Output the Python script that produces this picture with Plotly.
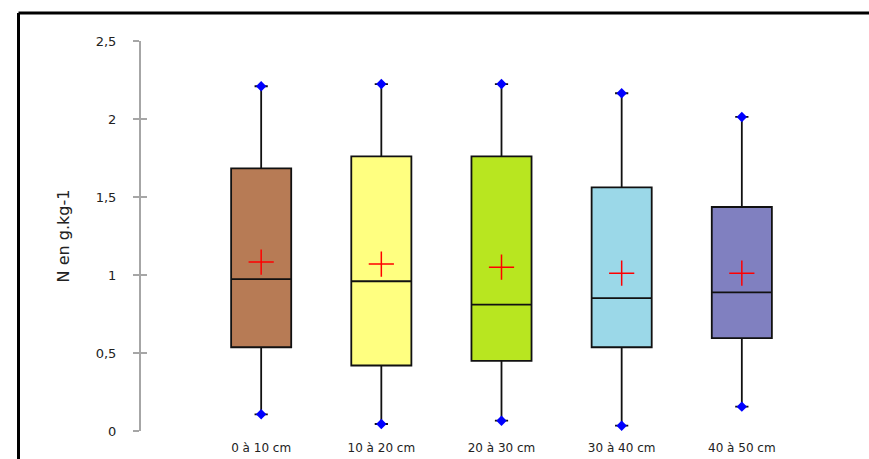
import plotly.graph_objects as go

# Soil nitrogen by depth layer
depths = ["0 à 10 cm", "10 à 20 cm", "20 à 30 cm", "30 à 40 cm", "40 à 50 cm"]
minimum = [0.107, 0.045, 0.066, 0.034, 0.156]
q1 = [0.537, 0.42, 0.45, 0.537, 0.595]
median = [0.974, 0.96, 0.81, 0.852, 0.888]
q3 = [1.684, 1.76, 1.76, 1.562, 1.436]
maximum = [2.21, 2.224, 2.224, 2.165, 2.013]
mean = [1.083, 1.07, 1.05, 1.012, 1.012]
colors = ["#b77b55", "#ffff80", "#b8e620", "#9bd8e8", "#8080c0"]

y_ticks = [0, 0.5, 1, 1.5, 2, 2.5]
y_ticktext = ["0", "0,5", "1", "1,5", "2", "2,5"]

positions = list(range(len(depths)))

fig = go.Figure()

for i, name in enumerate(depths):
    fig.add_trace(go.Box(
        x=[positions[i]],
        q1=[q1[i]], median=[median[i]], q3=[q3[i]],
        lowerfence=[minimum[i]], upperfence=[maximum[i]],
        name=name,
        fillcolor=colors[i],
        line=dict(color="#111111", width=1.8),
        width=0.5,
        whiskerwidth=0.22,
        boxpoints=False,
        showlegend=False,
        hoverinfo="skip",
    ))

# whisker end markers
fig.add_trace(go.Scatter(
    x=positions + positions, y=minimum + maximum,
    mode="markers",
    marker=dict(symbol="diamond", size=8, color="#0000ff", line=dict(width=0)),
    showlegend=False, hoverinfo="skip", cliponaxis=False,
))

# mean markers
fig.add_trace(go.Scatter(
    x=positions, y=mean,
    mode="markers",
    marker=dict(symbol="cross-thin", size=18, color="#ff0000",
                line=dict(color="#ff0000", width=1.5)),
    showlegend=False, hoverinfo="skip", cliponaxis=False,
))

# inward half of the y-axis ticks
fig.add_trace(go.Scatter(x=[None], y=[None], yaxis="y2", showlegend=False))

L, R, T, B = 141, 7, 41, 28
W, H = 869, 459
pw, ph = W - L - R, H - T - B


def px_x(px):
    return (px - L) / pw


def px_y(py):
    return (H - B - py) / ph


fig.update_layout(
    width=W, height=H,
    margin=dict(l=L, r=R, t=T, b=B, pad=0),
    paper_bgcolor="white", plot_bgcolor="white",
    font=dict(family="DejaVu Sans", color="#222222"),
    xaxis=dict(
        range=[-1, 5], automargin=False,
        tickmode="array", tickvals=positions, ticktext=depths,
        showgrid=False, zeroline=False, showline=False,
        ticks="outside", ticklen=6, tickcolor="rgba(0,0,0,0)",
        tickfont=dict(size=12, color="#222222"),
    ),
    yaxis=dict(
        range=[0, 2.5], automargin=False,
        tickmode="array", tickvals=y_ticks, ticktext=y_ticktext,
        showgrid=False, zeroline=False,
        showline=True, linecolor="#a6a6a6", linewidth=2,
        ticks="outside", ticklen=6, tickwidth=1.5, tickcolor="#a6a6a6",
        ticklabelstandoff=14,
        tickfont=dict(size=13, color="#222222"),
        title=dict(text="N en g.kg-1", font=dict(size=16, color="#222222"), standoff=22),
    ),
    yaxis2=dict(
        range=[0, 2.5], overlaying="y", side="left", automargin=False,
        tickmode="array", tickvals=y_ticks, showticklabels=False,
        showgrid=False, zeroline=False, showline=False,
        ticks="inside", ticklen=6, tickwidth=1.5, tickcolor="#a6a6a6",
    ),
    shapes=[
        dict(type="line", xref="paper", yref="paper",
             x0=px_x(18.5), x1=px_x(880), y0=px_y(13), y1=px_y(13),
             line=dict(color="#000000", width=3)),
        dict(type="line", xref="paper", yref="paper",
             x0=px_x(18.5), x1=px_x(18.5), y0=px_y(13), y1=px_y(480),
             line=dict(color="#000000", width=3)),
    ],
)

fig.write_html("out.html")
